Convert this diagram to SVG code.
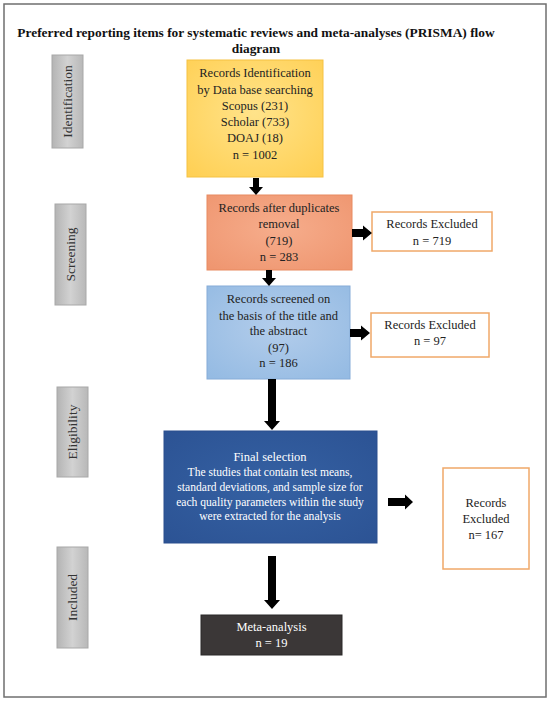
<svg xmlns="http://www.w3.org/2000/svg" width="550" height="702" viewBox="0 0 550 702">
<defs>
<linearGradient id="gGray" x1="0" y1="0" x2="1" y2="0"><stop offset="0" stop-color="#b4b4b4"/><stop offset="0.5" stop-color="#d2d2d2"/><stop offset="1" stop-color="#b8b8b8"/></linearGradient>
<radialGradient id="gYellow" cx="0.5" cy="0.45" r="0.7"><stop offset="0" stop-color="#ffe38a"/><stop offset="1" stop-color="#ffd055"/></radialGradient>
<radialGradient id="gOrange" cx="0.5" cy="0.45" r="0.7"><stop offset="0" stop-color="#f6ad8c"/><stop offset="1" stop-color="#ef9670"/></radialGradient>
<radialGradient id="gBlue" cx="0.5" cy="0.45" r="0.7"><stop offset="0" stop-color="#b3cdeb"/><stop offset="1" stop-color="#95bbe3"/></radialGradient>
<radialGradient id="gNavy" cx="0.5" cy="0.5" r="0.7"><stop offset="0" stop-color="#3561a3"/><stop offset="1" stop-color="#2c5394"/></radialGradient>
</defs>
<style>
.t{font-family:"Liberation Serif","Times New Roman",serif;font-size:12.5px;fill:#222;text-anchor:middle}
.w{fill:#fff;font-size:11.6px}
.side{font-family:"Liberation Serif","Times New Roman",serif;font-size:13.5px;fill:#333;text-anchor:middle}
.title{font-family:"Liberation Serif","Times New Roman",serif;font-size:13.4px;font-weight:bold;fill:#111;text-anchor:middle}
.sbox{fill:url(#gGray);stroke:#a8a8a8;stroke-width:1}
.ex{fill:#fff;stroke:#f0a868;stroke-width:1.5}
.arr{fill:#000}
</style>
<rect x="4" y="4" width="542" height="693" fill="#fff" stroke="#6f6f6f" stroke-width="1.5"/>
<g id="title">
<text class="title" x="256" y="37">Preferred reporting items for systematic reviews and meta-analyses (PRISMA) flow</text>
<text class="title" x="256" y="53">diagram</text>
</g>
<g id="side-identification"><rect class="sbox" x="52" y="55" width="31" height="93"/><text class="side" transform="translate(71.5,101.5) rotate(-90)">Identification</text></g>
<g id="side-screening"><rect class="sbox" x="55" y="204" width="31" height="101"/><text class="side" transform="translate(74.5,254.5) rotate(-90)">Screening</text></g>
<g id="side-eligibility"><rect class="sbox" x="57" y="387" width="31" height="90"/><text class="side" transform="translate(76.5,432) rotate(-90)">Eligibility</text></g>
<g id="side-included"><rect class="sbox" x="57" y="547" width="31" height="101"/><text class="side" transform="translate(76.5,597.5) rotate(-90)">Included</text></g>

<g id="identification">
<rect x="187" y="60" width="136" height="117" fill="url(#gYellow)" stroke="#f5c242" stroke-width="1"/>
<text class="t" x="255" y="77">Records Identification</text>
<text class="t" x="255" y="93.5">by Data base searching</text>
<text class="t" x="255" y="110">Scopus (231)</text>
<text class="t" x="255" y="125.5">Scholar (733)</text>
<text class="t" x="255" y="141.5">DOAJ (18)</text>
<text class="t" x="255" y="159">n = 1002</text>
</g>
<g id="duplicates">
<rect x="207" y="195" width="145" height="75" fill="url(#gOrange)" stroke="#e88a60" stroke-width="1"/>
<text class="t" x="279" y="212">Records after duplicates</text>
<text class="t" x="279" y="228">removal</text>
<text class="t" x="279" y="245">(719)</text>
<text class="t" x="279" y="261">n = 283</text>
</g>
<g id="excluded1">
<rect class="ex" x="372" y="212" width="120" height="39"/>
<text class="t" x="432" y="228">Records Excluded</text>
<text class="t" x="432" y="245">n = 719</text>
</g>
<g id="screened">
<rect x="207" y="286" width="143" height="93" fill="url(#gBlue)" stroke="#86acd8" stroke-width="1"/>
<text class="t" x="278.5" y="303">Records screened on</text>
<text class="t" x="278.5" y="320">the basis of the title and</text>
<text class="t" x="278.5" y="335">the abstract</text>
<text class="t" x="278.5" y="352">(97)</text>
<text class="t" x="278.5" y="367">n = 186</text>
</g>
<g id="excluded2">
<rect class="ex" x="371" y="313" width="118" height="44"/>
<text class="t" x="430" y="329">Records Excluded</text>
<text class="t" x="430" y="345">n = 97</text>
</g>
<g id="final">
<rect x="164" y="431" width="213" height="112" fill="url(#gNavy)" stroke="#2a4f8e" stroke-width="1"/>
<text class="t w" x="270" y="461" style="font-size:12.5px">Final selection</text>
<text class="t w" x="270" y="476">The studies that contain test means,</text>
<text class="t w" x="270" y="490.5">standard deviations, and sample size for</text>
<text class="t w" x="270" y="505.5">each quality parameters within the study</text>
<text class="t w" x="270" y="520">were extracted for the analysis</text>
</g>
<g id="excluded3">
<rect class="ex" x="443" y="468" width="86" height="101"/>
<text class="t" x="486" y="507">Records</text>
<text class="t" x="486" y="523">Excluded</text>
<text class="t" x="486" y="539">n= 167</text>
</g>
<g id="meta">
<rect x="201" y="615" width="141" height="40" fill="#3b3737" stroke="#2b2828" stroke-width="1"/>
<text class="t w" x="271.5" y="631" style="font-size:12.5px">Meta-analysis</text>
<text class="t w" x="271.5" y="647" style="font-size:12.5px">n = 19</text>
</g>

<g id="connectors">
<polygon class="arr" points="253,178 259,178 259,187 263,187 256,195 249,187 253,187"/>
<polygon class="arr" points="266,270 272,270 272,278 276,278 269,286 262,278 266,278"/>
<polygon class="arr" points="268,379 276,379 276,421 280,421 272,430 264,421 268,421"/>
<polygon class="arr" points="268,556 276,556 276,600 280,600 272,609 264,600 268,600"/>
<polygon class="arr" points="352,229 363,229 363,225.5 372,233 363,240.5 363,237 352,237"/>
<polygon class="arr" points="350,329 361,329 361,325.5 370,333 361,340.5 361,337 350,337"/>
<polygon class="arr" points="388,498 405,498 405,494.5 413,502 405,509.5 405,506 388,506"/>
</g>
</svg>
